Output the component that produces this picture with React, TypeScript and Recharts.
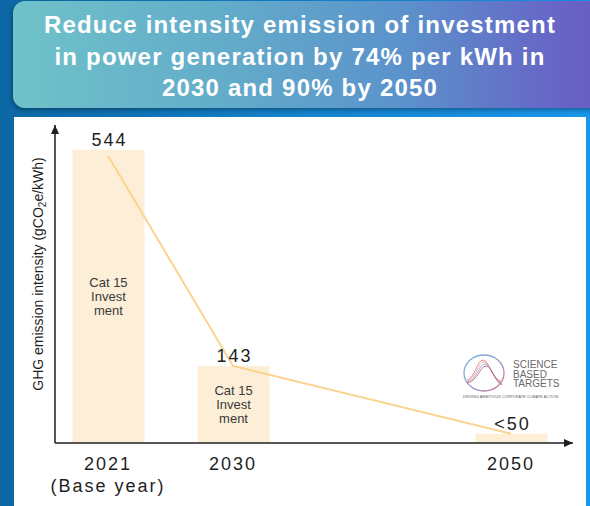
import React from 'react';
import { ComposedChart, Bar, Line, XAxis, YAxis, LabelList } from 'recharts';

const years = [2021, 2030, 2050];
const barValues = [544, 143, 17];
const lineValues = [533, 143, 17];
const valueLabels = ['544', '143', '<50'];
const barNotes = [['Cat 15', 'Invest', 'ment'], ['Cat 15', 'Invest', 'ment'], []];
const tickLabels = [['2021', '(Base year)'], ['2030'], ['2050']];
const titleLines = [
  'Reduce intensity emission of investment',
  'in power generation by 74% per kWh in',
  '2030 and 90% by 2050',
];

const data = years.map((year, i) => ({
  year,
  intensity: barValues[i],
  trend: lineValues[i],
  label: valueLabels[i],
}));

const FONT = '"Liberation Sans", Arial, sans-serif';
const INK = '#1f1f1f';

function ValueLabel(props: any) {
  const { x, y, width, value } = props;
  return (
    <text
      x={Number(x) + Number(width) / 2 + 1}
      y={Number(y) - 4}
      textAnchor="middle"
      fontSize={18}
      letterSpacing={2}
      fill={INK}
      fontFamily={FONT}
    >
      {value}
    </text>
  );
}

function NoteLabel(props: any) {
  const { x, y, width, height, value } = props;
  const lines = barNotes[years.indexOf(Number(value))] ?? [];
  if (!lines.length) return null;
  const cx = Number(x) + Number(width) / 2;
  const cy = Number(y) + Number(height) / 2 + 5;
  return (
    <text textAnchor="middle" fontSize={13} fill="#3a3a3a" fontFamily={FONT}>
      {lines.map((l, i) => (
        <tspan key={i} x={cx} y={cy + (i - (lines.length - 1) / 2) * 14}>
          {l}
        </tspan>
      ))}
    </text>
  );
}

function YearTick(props: any) {
  const { x, y, payload } = props;
  const lines = tickLabels[years.indexOf(payload.value)] ?? [String(payload.value)];
  return (
    <text textAnchor="middle" fontSize={18} letterSpacing={2} fill={INK} fontFamily={FONT}>
      {lines.map((l, i) => (
        <tspan key={i} x={x} y={y + 27 + i * 22}>
          {l}
        </tspan>
      ))}
    </text>
  );
}

function YTitle(props: any) {
  const vb = props.viewBox ?? { x: 0, y: 8, width: 41, height: 318 };
  const x = vb.x + 29;
  const y = vb.y + vb.height / 2 - 10;
  return (
    <text
      transform={`rotate(-90, ${x}, ${y})`}
      x={x}
      y={y}
      textAnchor="middle"
      fontSize={14}
      fill={INK}
      fontFamily={FONT}
    >
      GHG emission intensity (gCO
      <tspan fontSize={10} dy={3}>2</tspan>
      <tspan dy={-3}>e/kWh)</tspan>
    </text>
  );
}

function SbtiLogo() {
  return (
    <svg width={110} height={60} style={{ position: 'absolute', left: 455, top: 348 }}>
      <defs>
        <linearGradient id="ring" x1="0" y1="0" x2="1" y2="1">
          <stop offset="0%" stopColor="#6fb6e0" />
          <stop offset="60%" stopColor="#9a9ad0" />
          <stop offset="100%" stopColor="#e46a78" />
        </linearGradient>
      </defs>
      <ellipse cx={29} cy={25} rx={20} ry={18} fill="none" stroke="url(#ring)" strokeWidth={1.3} />
      <path d="M12,32 C20,30 22,12 28,12 C34,12 36,30 47,34" fill="none" stroke="#e0707a" strokeWidth={0.8} />
      <path d="M12,33 C21,31 23,14 29,14 C35,14 37,31 47,35" fill="none" stroke="#f0a0b0" strokeWidth={0.8} />
      <path d="M12,34 C22,32 24,16 30,16 C36,16 38,32 47,36" fill="none" stroke="#7aa8d8" strokeWidth={0.8} />
      <path d="M12,35 C23,33 25,18 31,18 C37,18 39,33 47,37" fill="none" stroke="#c05060" strokeWidth={0.8} />
      <text x={58} y={20} fontSize={10} fill="#6a6a6a" fontFamily={FONT}>SCIENCE</text>
      <text x={58} y={29.5} fontSize={10} fill="#6a6a6a" fontFamily={FONT}>BASED</text>
      <text x={58} y={39} fontSize={10} fill="#6a6a6a" fontFamily={FONT}>TARGETS</text>
      <text x={8} y={50} fontSize={3.6} fill="#555" fontFamily={FONT} textLength={95}>
        DRIVING AMBITIOUS CORPORATE CLIMATE ACTION
      </text>
    </svg>
  );
}

export default function App() {
  return (
    <div
      style={{
        position: 'fixed',
        left: 0,
        top: 0,
        width: 590,
        height: 506,
        overflow: 'hidden',
        background: 'linear-gradient(90deg, #0c68a5 0%, #1583cc 50%, #1b97ec 100%)',
        fontFamily: FONT,
      }}
    >
      <div
        style={{
          position: 'absolute',
          left: 13,
          top: 1,
          width: 600,
          height: 107,
          borderRadius: 12,
          background:
            'linear-gradient(90deg, #6fc2c9 0%, #63acca 35%, #5b92cb 65%, #6766c6 90%, #6a5ac2 100%)',
          boxShadow: '-1px 2px 5px rgba(0,0,0,0.35)',
        }}
      />
      <svg width={590} height={110} style={{ position: 'absolute', left: 0, top: 0 }}>
        {titleLines.map((t, i) => (
          <text
            key={i}
            x={300}
            y={33 + i * 31.5}
            textAnchor="middle"
            fontSize={24}
            fontWeight="bold"
            letterSpacing={1.2}
            fill="#ffffff"
            fontFamily={FONT}
          >
            {t}
          </text>
        ))}
      </svg>
      <div
        style={{
          position: 'absolute',
          left: 14,
          top: 117,
          width: 572,
          height: 389,
          background: '#ffffff',
        }}
      >
        <ComposedChart
          width={572}
          height={389}
          data={data}
          margin={{ top: 8, right: 13, bottom: 13, left: 0 }}
        >
          <defs>
            <marker
              id="axisArrow"
              viewBox="0 0 9 8"
              refX={9}
              refY={4}
              markerWidth={9}
              markerHeight={8}
              markerUnits="userSpaceOnUse"
              orient="auto-start-reverse"
            >
              <path d="M0,0 L9,4 L0,8 z" fill={INK} />
            </marker>
          </defs>
          <XAxis
            dataKey="year"
            type="number"
            domain={[2021, 2050]}
            ticks={years}
            padding={{ left: 53, right: 62 }}
            height={50}
            tickSize={0}
            tickMargin={0}
            tickLine={false}
            axisLine={{ stroke: INK, strokeWidth: 1.5, markerEnd: 'url(#axisArrow)' }}
            tick={(p: any) => <YearTick {...p} />}
            interval={0}
          />
          <YAxis
            type="number"
            domain={[0, 590]}
            width={41}
            tick={false}
            tickLine={false}
            axisLine={{ stroke: INK, strokeWidth: 1.5, markerStart: 'url(#axisArrow)' }}
            label={<YTitle />}
          />
          <Bar dataKey="intensity" fill="#fdeed7" barSize={72} isAnimationActive={false}>
            <LabelList dataKey="label" content={(p: any) => <ValueLabel {...p} />} />
            <LabelList dataKey="year" content={(p: any) => <NoteLabel {...p} />} />
          </Bar>
          <Line
            dataKey="trend"
            type="linear"
            stroke="#fbd38c"
            strokeWidth={2}
            dot={false}
            activeDot={false}
            isAnimationActive={false}
          />
        </ComposedChart>
      </div>
      <SbtiLogo />
    </div>
  );
}
